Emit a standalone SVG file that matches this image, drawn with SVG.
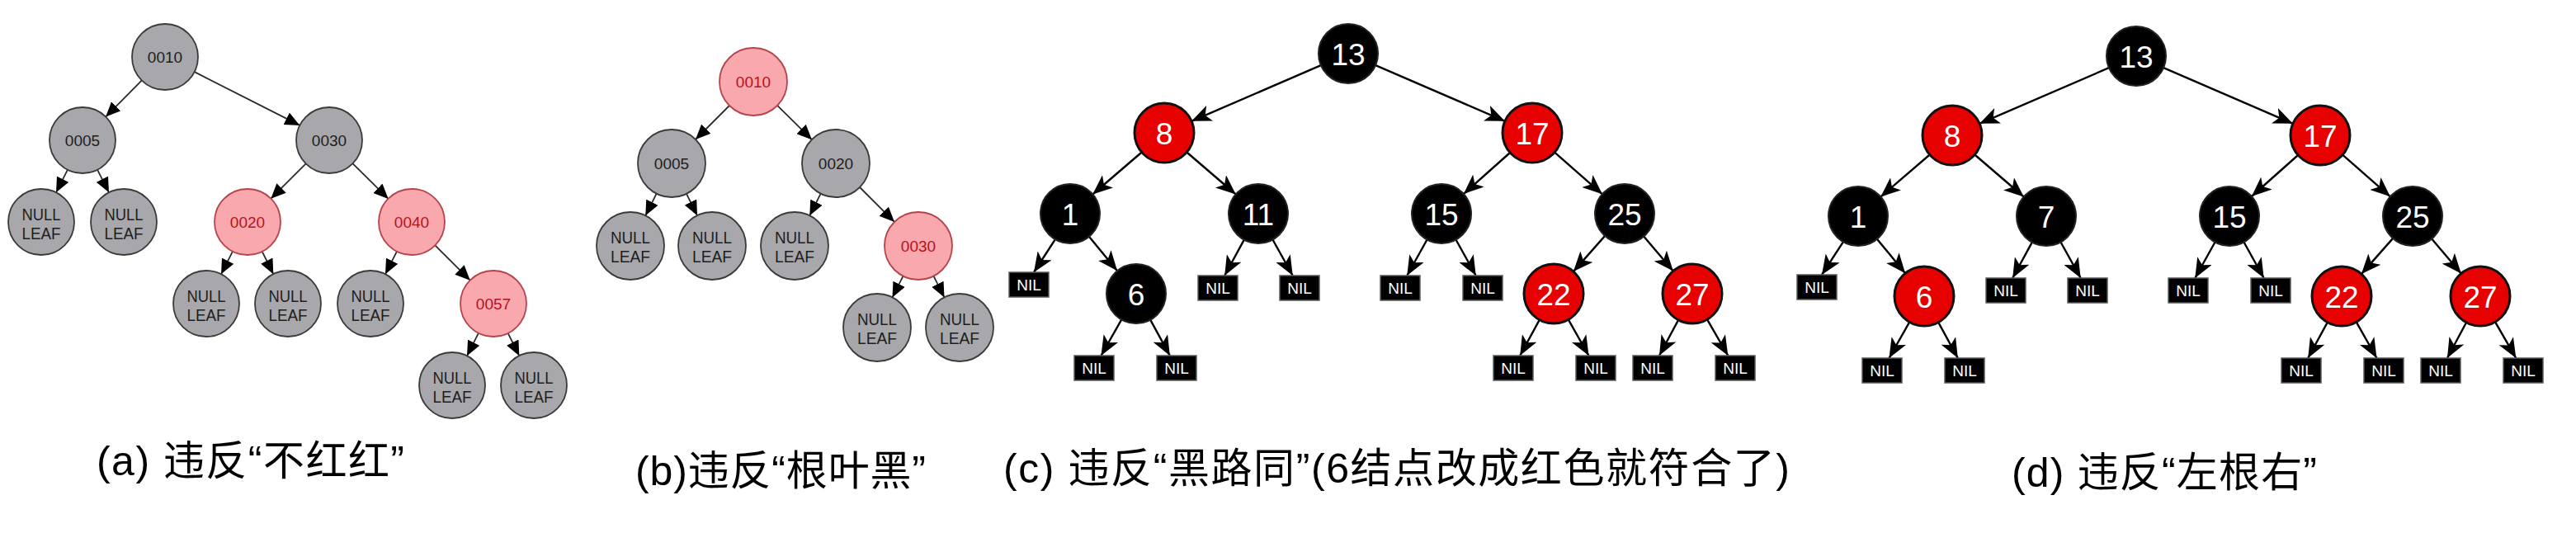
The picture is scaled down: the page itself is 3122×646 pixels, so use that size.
<svg xmlns="http://www.w3.org/2000/svg" width="3122" height="646" viewBox="0 0 3122 646">
<style>
.g circle{fill:#a8a7ab;stroke:#3a3a3a;stroke-width:1.8}
.p circle{fill:#f9a8ad;stroke:#b4434a;stroke-width:1.8}
.g text,.p text{font-family:"Liberation Sans",Arial,sans-serif;font-size:19px;fill:#1e1e1e;text-anchor:middle}
.p text{fill:#b3141d}
.g text.lf{font-size:20px}
.b circle{fill:#000;stroke:#222;stroke-width:2}
.r circle{fill:#e60000;stroke:#111;stroke-width:3}
.b text,.r text{font-family:"Liberation Sans",Arial,sans-serif;font-size:37px;fill:#fff;text-anchor:middle}
.n rect{fill:#000;stroke:#5a5a5a;stroke-width:1.5}
.n text{font-family:"Liberation Sans",Arial,sans-serif;font-size:19px;fill:#fff;text-anchor:middle}
.e1 line{stroke:#2a2a2a;stroke-width:1.8;marker-end:url(#a1)}
.e2 line{stroke:#000;stroke-width:2.4;marker-end:url(#a2)}
.cap{font-family:"Liberation Sans","Noto Sans CJK SC",sans-serif;font-size:50px;fill:#000}
</style>
<defs>
<marker id="a1" markerUnits="userSpaceOnUse" viewBox="0 0 18 16" refX="18" refY="8" markerWidth="18" markerHeight="16" orient="auto"><path d="M0,0 L18,8 L0,16 z" fill="#000"/></marker>
<marker id="a2" markerUnits="userSpaceOnUse" viewBox="0 0 24 20" refX="24" refY="10" markerWidth="24" markerHeight="20" orient="auto"><path d="M0,0 L24,10 L0,20 L6,10 z" fill="#000"/></marker>
</defs>
<rect width="3122" height="646" fill="#fff"/>

<!-- Panel (a) -->
<g id="conn-a" class="e1">
<line x1="171.9" y1="97.4" x2="128.1" y2="141.6"/>
<line x1="235.7" y1="87.1" x2="363.3" y2="151.9"/>
<line x1="82" y1="205.7" x2="68" y2="233.3"/>
<line x1="118" y1="205.7" x2="132" y2="233.3"/>
<line x1="370.7" y1="198.3" x2="328.3" y2="240.7"/>
<line x1="427.4" y1="198.1" x2="470.6" y2="240.9"/>
<line x1="282" y1="304.7" x2="268" y2="332.3"/>
<line x1="317.7" y1="304.8" x2="331.3" y2="332.2"/>
<line x1="481" y1="304.7" x2="467" y2="332.3"/>
<line x1="527.3" y1="297.3" x2="569.7" y2="339.7"/>
<line x1="580" y1="403.7" x2="566" y2="431.3"/>
<line x1="615.7" y1="403.8" x2="629.3" y2="431.2"/>
</g>
<g id="a-0010" class="g"><circle cx="200" cy="69" r="40"/><text x="200" y="76">0010</text></g>
<g id="a-0005" class="g"><circle cx="100" cy="170" r="40"/><text x="100" y="177">0005</text></g>
<g id="a-0030" class="g"><circle cx="399" cy="170" r="40"/><text x="399" y="177">0030</text></g>
<g id="a-leaf1" class="g"><circle cx="50" cy="269" r="40"/><text class="lf" x="50" y="267" textLength="47" lengthAdjust="spacingAndGlyphs">NULL</text><text class="lf" x="50" y="290" textLength="47" lengthAdjust="spacingAndGlyphs">LEAF</text></g>
<g id="a-leaf2" class="g"><circle cx="150" cy="269" r="40"/><text class="lf" x="150" y="267" textLength="47" lengthAdjust="spacingAndGlyphs">NULL</text><text class="lf" x="150" y="290" textLength="47" lengthAdjust="spacingAndGlyphs">LEAF</text></g>
<g id="a-0020" class="p"><circle cx="300" cy="269" r="40"/><text x="300" y="276">0020</text></g>
<g id="a-0040" class="p"><circle cx="499" cy="269" r="40"/><text x="499" y="276">0040</text></g>
<g id="a-leaf3" class="g"><circle cx="250" cy="368" r="40"/><text class="lf" x="250" y="366" textLength="47" lengthAdjust="spacingAndGlyphs">NULL</text><text class="lf" x="250" y="389" textLength="47" lengthAdjust="spacingAndGlyphs">LEAF</text></g>
<g id="a-leaf4" class="g"><circle cx="349" cy="368" r="40"/><text class="lf" x="349" y="366" textLength="47" lengthAdjust="spacingAndGlyphs">NULL</text><text class="lf" x="349" y="389" textLength="47" lengthAdjust="spacingAndGlyphs">LEAF</text></g>
<g id="a-leaf5" class="g"><circle cx="449" cy="368" r="40"/><text class="lf" x="449" y="366" textLength="47" lengthAdjust="spacingAndGlyphs">NULL</text><text class="lf" x="449" y="389" textLength="47" lengthAdjust="spacingAndGlyphs">LEAF</text></g>
<g id="a-0057" class="p"><circle cx="598" cy="368" r="40"/><text x="598" y="375">0057</text></g>
<g id="a-leaf6" class="g"><circle cx="548" cy="467" r="40"/><text class="lf" x="548" y="465" textLength="47" lengthAdjust="spacingAndGlyphs">NULL</text><text class="lf" x="548" y="488" textLength="47" lengthAdjust="spacingAndGlyphs">LEAF</text></g>
<g id="a-leaf7" class="g"><circle cx="647" cy="467" r="40"/><text class="lf" x="647" y="465" textLength="47" lengthAdjust="spacingAndGlyphs">NULL</text><text class="lf" x="647" y="488" textLength="47" lengthAdjust="spacingAndGlyphs">LEAF</text></g>

<!-- Panel (b) -->
<g id="conn-b" class="e1">
<line x1="884" y1="128" x2="843" y2="169"/>
<line x1="942.1" y1="127.8" x2="983.9" y2="169.2"/>
<line x1="795.7" y1="234.7" x2="782.3" y2="261.3"/>
<line x1="832" y1="234.8" x2="845" y2="261.2"/>
<line x1="994.7" y1="234.7" x2="981.3" y2="261.3"/>
<line x1="1042" y1="227" x2="1084" y2="269"/>
<line x1="1094.5" y1="334.6" x2="1081.5" y2="360.4"/>
<line x1="1131.5" y1="334.6" x2="1144.5" y2="360.4"/>
</g>
<g id="b-0010" class="p"><circle cx="913" cy="99" r="41"/><text x="913" y="106">0010</text></g>
<g id="b-0005" class="g"><circle cx="814" cy="198" r="41"/><text x="814" y="205">0005</text></g>
<g id="b-0020" class="g"><circle cx="1013" cy="198" r="41"/><text x="1013" y="205">0020</text></g>
<g id="b-leaf1" class="g"><circle cx="764" cy="298" r="41"/><text class="lf" x="764" y="295" textLength="48" lengthAdjust="spacingAndGlyphs">NULL</text><text class="lf" x="764" y="318" textLength="48" lengthAdjust="spacingAndGlyphs">LEAF</text></g>
<g id="b-leaf2" class="g"><circle cx="863" cy="298" r="41"/><text class="lf" x="863" y="295" textLength="48" lengthAdjust="spacingAndGlyphs">NULL</text><text class="lf" x="863" y="318" textLength="48" lengthAdjust="spacingAndGlyphs">LEAF</text></g>
<g id="b-leaf3" class="g"><circle cx="963" cy="298" r="41"/><text class="lf" x="963" y="295" textLength="48" lengthAdjust="spacingAndGlyphs">NULL</text><text class="lf" x="963" y="318" textLength="48" lengthAdjust="spacingAndGlyphs">LEAF</text></g>
<g id="b-0030" class="p"><circle cx="1113" cy="298" r="41"/><text x="1113" y="305">0030</text></g>
<g id="b-leaf4" class="g"><circle cx="1063" cy="397" r="41"/><text class="lf" x="1063" y="394" textLength="48" lengthAdjust="spacingAndGlyphs">NULL</text><text class="lf" x="1063" y="417" textLength="48" lengthAdjust="spacingAndGlyphs">LEAF</text></g>
<g id="b-leaf5" class="g"><circle cx="1163" cy="397" r="41"/><text class="lf" x="1163" y="394" textLength="48" lengthAdjust="spacingAndGlyphs">NULL</text><text class="lf" x="1163" y="417" textLength="48" lengthAdjust="spacingAndGlyphs">LEAF</text></g>

<!-- Panel (c) -->
<g id="conn-c" class="e2">
<line x1="1600.9" y1="79.2" x2="1444.1" y2="146.8"/>
<line x1="1667.1" y1="79.2" x2="1823.9" y2="146.8"/>
<line x1="1383.7" y1="184.5" x2="1324.3" y2="235.5"/>
<line x1="1438.3" y1="184.5" x2="1497.7" y2="235.5"/>
<line x1="1830.1" y1="185" x2="1773.9" y2="235"/>
<line x1="1884.1" y1="184.7" x2="1941.9" y2="235.3"/>
<line x1="1278.9" y1="290.1" x2="1253" y2="330"/>
<line x1="1319.9" y1="286.8" x2="1354.1" y2="328.2"/>
<line x1="1507.8" y1="290.6" x2="1484.2" y2="334"/>
<line x1="1542.5" y1="290.5" x2="1566.7" y2="334"/>
<line x1="1729.5" y1="290.5" x2="1705.3" y2="334"/>
<line x1="1764.5" y1="290.5" x2="1788.7" y2="334"/>
<line x1="1945.1" y1="285.9" x2="1906.9" y2="329.1"/>
<line x1="1992.2" y1="286.5" x2="2027.8" y2="328.5"/>
<line x1="1359.2" y1="387.3" x2="1334.5" y2="431"/>
<line x1="1394.2" y1="387.6" x2="1417.8" y2="431"/>
<line x1="1865.8" y1="387.6" x2="1842.2" y2="431"/>
<line x1="1900.8" y1="387.3" x2="1925.5" y2="431"/>
<line x1="2034.1" y1="387.8" x2="2011" y2="431"/>
<line x1="2069" y1="387.2" x2="2094.3" y2="431"/>
</g>
<g id="c-13" class="b"><circle cx="1634" cy="65" r="36"/><text x="1634" y="78.5">13</text></g>
<g id="c-8" class="r"><circle cx="1411" cy="161" r="36"/><text x="1411" y="174.5">8</text></g>
<g id="c-17" class="r"><circle cx="1857" cy="161" r="36"/><text x="1857" y="174.5">17</text></g>
<g id="c-1" class="b"><circle cx="1297" cy="259" r="36"/><text x="1297" y="272.5">1</text></g>
<g id="c-11" class="b"><circle cx="1525" cy="259" r="36"/><text x="1525" y="272.5">11</text></g>
<g id="c-15" class="b"><circle cx="1747" cy="259" r="36"/><text x="1747" y="272.5">15</text></g>
<g id="c-25" class="b"><circle cx="1969" cy="259" r="36"/><text x="1969" y="272.5">25</text></g>
<g id="c-6" class="b"><circle cx="1377" cy="356" r="36"/><text x="1377" y="369.5">6</text></g>
<g id="c-22" class="r"><circle cx="1883" cy="356" r="36"/><text x="1883" y="369.5">22</text></g>
<g id="c-27" class="r"><circle cx="2051" cy="356" r="36"/><text x="2051" y="369.5">27</text></g>
<g id="c-nil1" class="n"><rect x="1223" y="330" width="48" height="30"/><text x="1247" y="352">NIL</text></g>
<g id="c-nil2" class="n"><rect x="1452" y="334" width="48" height="30"/><text x="1476" y="356">NIL</text></g>
<g id="c-nil3" class="n"><rect x="1551" y="334" width="48" height="30"/><text x="1575" y="356">NIL</text></g>
<g id="c-nil4" class="n"><rect x="1673" y="334" width="48" height="30"/><text x="1697" y="356">NIL</text></g>
<g id="c-nil5" class="n"><rect x="1773" y="334" width="48" height="30"/><text x="1797" y="356">NIL</text></g>
<g id="c-nil6" class="n"><rect x="1302" y="431" width="48" height="30"/><text x="1326" y="453">NIL</text></g>
<g id="c-nil7" class="n"><rect x="1402" y="431" width="48" height="30"/><text x="1426" y="453">NIL</text></g>
<g id="c-nil8" class="n"><rect x="1810" y="431" width="48" height="30"/><text x="1834" y="453">NIL</text></g>
<g id="c-nil9" class="n"><rect x="1910" y="431" width="48" height="30"/><text x="1934" y="453">NIL</text></g>
<g id="c-nil10" class="n"><rect x="1979" y="431" width="48" height="30"/><text x="2003" y="453">NIL</text></g>
<g id="c-nil11" class="n"><rect x="2079" y="431" width="48" height="30"/><text x="2103" y="453">NIL</text></g>

<!-- Panel (d) -->
<g transform="translate(955,3)">
<g id="conn-d" class="e2">
<line x1="1600.9" y1="79.2" x2="1444.1" y2="146.8"/>
<line x1="1667.1" y1="79.2" x2="1823.9" y2="146.8"/>
<line x1="1383.7" y1="184.5" x2="1324.3" y2="235.5"/>
<line x1="1438.3" y1="184.5" x2="1497.7" y2="235.5"/>
<line x1="1830.1" y1="185" x2="1773.9" y2="235"/>
<line x1="1884.1" y1="184.7" x2="1941.9" y2="235.3"/>
<line x1="1278.9" y1="290.1" x2="1253" y2="330"/>
<line x1="1319.9" y1="286.8" x2="1354.1" y2="328.2"/>
<line x1="1507.8" y1="290.6" x2="1484.2" y2="334"/>
<line x1="1542.5" y1="290.5" x2="1566.7" y2="334"/>
<line x1="1729.5" y1="290.5" x2="1705.3" y2="334"/>
<line x1="1764.5" y1="290.5" x2="1788.7" y2="334"/>
<line x1="1945.1" y1="285.9" x2="1906.9" y2="329.1"/>
<line x1="1992.2" y1="286.5" x2="2027.8" y2="328.5"/>
<line x1="1359.2" y1="387.3" x2="1334.5" y2="431"/>
<line x1="1394.2" y1="387.6" x2="1417.8" y2="431"/>
<line x1="1865.8" y1="387.6" x2="1842.2" y2="431"/>
<line x1="1900.8" y1="387.3" x2="1925.5" y2="431"/>
<line x1="2034.1" y1="387.8" x2="2011" y2="431"/>
<line x1="2069" y1="387.2" x2="2094.3" y2="431"/>
</g>
<g id="d-13" class="b"><circle cx="1634" cy="65" r="36"/><text x="1634" y="78.5">13</text></g>
<g id="d-8" class="r"><circle cx="1411" cy="161" r="36"/><text x="1411" y="174.5">8</text></g>
<g id="d-17" class="r"><circle cx="1857" cy="161" r="36"/><text x="1857" y="174.5">17</text></g>
<g id="d-1" class="b"><circle cx="1297" cy="259" r="36"/><text x="1297" y="272.5">1</text></g>
<g id="d-7" class="b"><circle cx="1525" cy="259" r="36"/><text x="1525" y="272.5">7</text></g>
<g id="d-15" class="b"><circle cx="1747" cy="259" r="36"/><text x="1747" y="272.5">15</text></g>
<g id="d-25" class="b"><circle cx="1969" cy="259" r="36"/><text x="1969" y="272.5">25</text></g>
<g id="d-6" class="r"><circle cx="1377" cy="356" r="36"/><text x="1377" y="369.5">6</text></g>
<g id="d-22" class="r"><circle cx="1883" cy="356" r="36"/><text x="1883" y="369.5">22</text></g>
<g id="d-27" class="r"><circle cx="2051" cy="356" r="36"/><text x="2051" y="369.5">27</text></g>
<g id="d-nil1" class="n"><rect x="1223" y="330" width="48" height="30"/><text x="1247" y="352">NIL</text></g>
<g id="d-nil2" class="n"><rect x="1452" y="334" width="48" height="30"/><text x="1476" y="356">NIL</text></g>
<g id="d-nil3" class="n"><rect x="1551" y="334" width="48" height="30"/><text x="1575" y="356">NIL</text></g>
<g id="d-nil4" class="n"><rect x="1673" y="334" width="48" height="30"/><text x="1697" y="356">NIL</text></g>
<g id="d-nil5" class="n"><rect x="1773" y="334" width="48" height="30"/><text x="1797" y="356">NIL</text></g>
<g id="d-nil6" class="n"><rect x="1302" y="431" width="48" height="30"/><text x="1326" y="453">NIL</text></g>
<g id="d-nil7" class="n"><rect x="1402" y="431" width="48" height="30"/><text x="1426" y="453">NIL</text></g>
<g id="d-nil8" class="n"><rect x="1810" y="431" width="48" height="30"/><text x="1834" y="453">NIL</text></g>
<g id="d-nil9" class="n"><rect x="1910" y="431" width="48" height="30"/><text x="1934" y="453">NIL</text></g>
<g id="d-nil10" class="n"><rect x="1979" y="431" width="48" height="30"/><text x="2003" y="453">NIL</text></g>
<g id="d-nil11" class="n"><rect x="2079" y="431" width="48" height="30"/><text x="2103" y="453">NIL</text></g>
</g>

<!-- Captions -->
<g id="captions">
<text class="cap" x="117" y="576" textLength="373">(a) 违反“不红红”</text>
<text class="cap" x="770" y="588" textLength="352">(b)违反“根叶黑”</text>
<text class="cap" x="1216" y="585" textLength="953">(c) 违反“黑路同”(6结点改成红色就符合了)</text>
<text class="cap" x="2438" y="590" textLength="370">(d) 违反“左根右”</text>
</g>
</svg>
